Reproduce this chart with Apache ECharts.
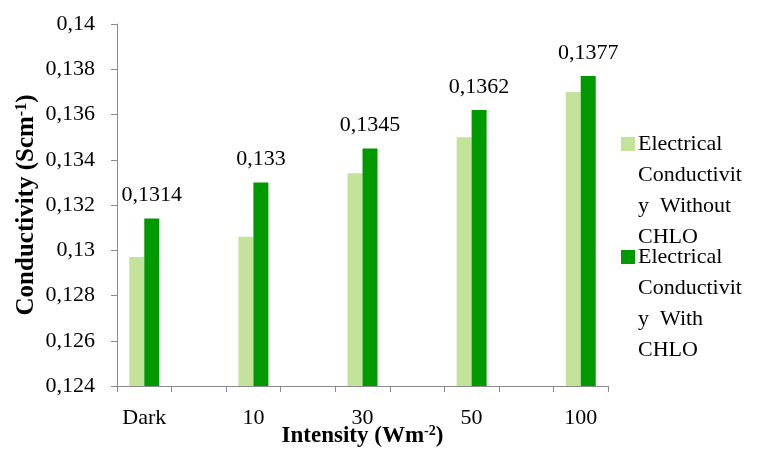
<!DOCTYPE html>
<html>
<head>
<meta charset="utf-8">
<script src="https://cdn.jsdelivr.net/npm/echarts@6/dist/echarts.min.js"></script>
<style>
html,body{margin:0;padding:0;background:#fff;}
#chart{width:774px;height:450px;}
</style>
</head>
<body>
<div id="chart"></div>
<script>
const categories = ['Dark', '10', '30', '50', '100'];
const withoutChlo = [0.1297, 0.1306, 0.1334, 0.1350, 0.1370];
const withChlo = [0.1314, 0.1330, 0.1345, 0.1362, 0.1377];
const seriesNames = ['Electrical Conductivity Without CHLO', 'Electrical Conductivity With CHLO'];
const legendLines = [
  ['Electrical', 'Conductivit', 'y  Without', 'CHLO'],
  ['Electrical', 'Conductivit', 'y  With', 'CHLO']
];
const colors = ['#C3E39A', '#009A00'];

// Excel source has a blank category between each labelled one
function spread(arr, blank) {
  const out = [];
  arr.forEach((v, i) => { out.push(v); if (i < arr.length - 1) out.push(blank); });
  return out;
}
const xData = spread(categories, '');
const s1 = spread(withoutChlo, '-');
const s2 = spread(withChlo, '-');

const FONT = 'Liberation Serif';
const comma = v => String(+(+v).toFixed(4)).replace('.', ',');

function legendFmt(idx) {
  return function () {
    const L = legendLines[idx];
    return '{m' + idx + '|}{t|' + L[0] + '}\n' + L.slice(1).map(l => '{s|}{t|' + l + '}').join('\n');
  };
}
const legendRich = {
  m0: {width: 14, height: 14, backgroundColor: colors[0]},
  m1: {width: 14, height: 14, backgroundColor: colors[1]},
  s: {width: 14, height: 14},
  t: {fontFamily: FONT, fontSize: 22, color: '#000', lineHeight: 31, padding: [0, 0, 0, 3]}
};

const chart = echarts.init(document.getElementById('chart'));
chart.setOption({
  animation: false,
  textStyle: {fontFamily: FONT},
  grid: {left: 117, right: 166, top: 24, bottom: 64, containLabel: false, outerBoundsMode: 'none'},
  legend: [0, 1].map(i => ({
    data: [seriesNames[i]],
    left: 611,
    top: i === 0 ? 128 : 241,
    itemWidth: 0,
    itemHeight: 0,
    selectedMode: false,
    formatter: legendFmt(i),
    textStyle: {rich: legendRich}
  })),
  xAxis: {
    type: 'category',
    data: xData,
    name: '{b|Intensity (Wm}{sup|-2}{b|)}',
    nameLocation: 'middle',
    nameGap: 38,
    nameMoveOverlap: false,
    nameTextStyle: {
      rich: {
        b: {fontFamily: FONT, fontSize: 23, fontWeight: 'bold', color: '#000'},
        sup: {fontFamily: FONT, fontSize: 14, fontWeight: 'bold', color: '#000', verticalAlign: 'top', padding: [0, 0, 10, 0]}
      }
    },
    axisLine: {lineStyle: {color: '#8a8a8a', width: 1}},
    axisTick: {show: true, interval: 0, alignWithLabel: false, length: 6, lineStyle: {color: '#8a8a8a'}},
    axisLabel: {interval: 0, margin: 21, fontFamily: FONT, fontSize: 22, color: '#000'}
  },
  yAxis: {
    type: 'value',
    min: 0.124,
    max: 0.14,
    interval: 0.002,
    name: '{b|Conductivity (Scm}{sup|-1}{b|)}',
    nameLocation: 'middle',
    nameGap: 77,
    nameMoveOverlap: false,
    nameTextStyle: {
      rich: {
        b: {fontFamily: FONT, fontSize: 25, fontWeight: 'bold', color: '#000'},
        sup: {fontFamily: FONT, fontSize: 16, fontWeight: 'bold', color: '#000', verticalAlign: 'top', padding: [0, 0, 10, 0]}
      }
    },
    splitLine: {show: false},
    axisLine: {show: true, lineStyle: {color: '#8a8a8a', width: 1}},
    axisTick: {show: true, length: 6, lineStyle: {color: '#8a8a8a'}},
    axisLabel: {margin: 22, fontFamily: FONT, fontSize: 22, color: '#000', formatter: comma}
  },
  series: [
    {
      name: seriesNames[0],
      type: 'bar',
      data: s1,
      barWidth: 15,
      barGap: '0%',
      itemStyle: {color: colors[0]}
    },
    {
      name: seriesNames[1],
      type: 'bar',
      data: s2,
      barWidth: 15,
      barGap: '0%',
      itemStyle: {color: colors[1]},
      label: {
        show: true,
        position: 'top',
        distance: 12,
        fontFamily: FONT,
        fontSize: 22,
        color: '#000',
        formatter: p => comma(p.value)
      }
    }
  ]
});
</script>
</body>
</html>
